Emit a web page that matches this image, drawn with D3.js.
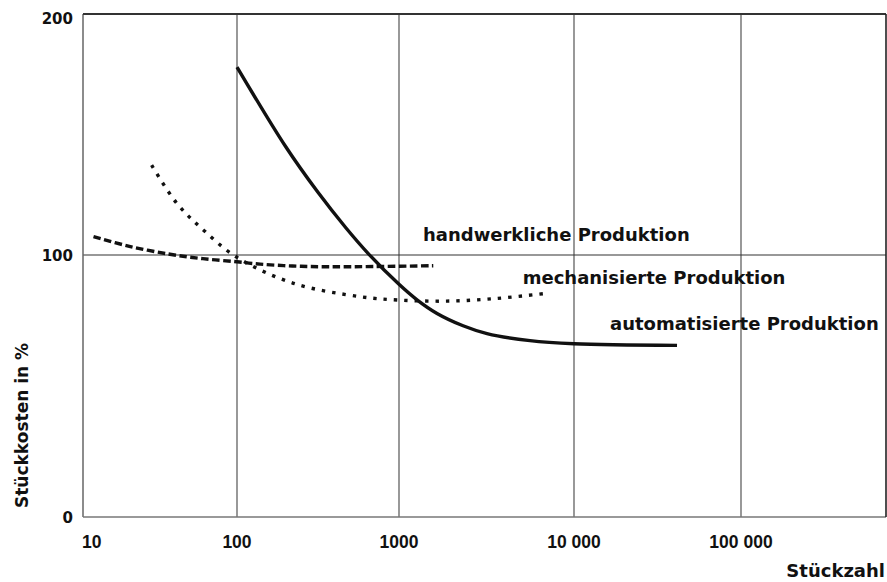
<!DOCTYPE html>
<html><head><meta charset="utf-8">
<script src="https://cdn.jsdelivr.net/npm/d3@7"></script>
<style>
body{margin:0;background:#fff;}
svg{display:block;}
</style></head>
<body>
<svg id="c" width="887" height="582"></svg>
<script>
// ---- data ----
const xTicks = [10, 100, 1000, 10000, 100000];
const xTickLabels = ["10", "100", "1000", "10 000", "100 000"];
const yTicks = [0, 100, 200];
const yTickLabels = ["0", "100", "200"];

const handX = [11.7, 20, 36.7, 60, 100, 139, 220, 358, 700, 1570];
const handY = [107.6, 103.6, 100.3, 98.6, 97.4, 96.5, 95.8, 95.5, 95.6, 95.9];

const mechX = [27.9, 40.6, 60.4, 100, 223, 574, 1000, 1870, 3600, 6980];
const mechY = [137.3, 121.5, 110.4, 99.1, 89.2, 84.1, 82.8, 82.4, 83.4, 85.4];

const autoX = [100, 200, 316, 471, 644, 1000, 1267, 1649, 2323, 3184, 5605, 10000, 41400];
const autoY = [178, 144.9, 126, 111.2, 100.7, 88.8, 82.9, 77.7, 73, 70, 67.3, 66.1, 65.5];

const seriesLabels = ["handwerkliche Produktion", "mechanisierte Produktion", "automatisierte Produktion"];
const xTitle = "Stückzahl";
const yTitle = "Stückkosten in %";

// ---- scales ----
const svg = d3.select("#c");
const x = d3.scaleLog()
  .domain([10, 100, 1000, 10000, 100000, 741000])
  .range([83, 237, 399, 574, 741, 886]);
const y = d3.scaleLinear()
  .domain([0, 100, 200])
  .range([517, 255, 14]);

// ---- grid ----
const g = svg.append("g");
g.selectAll("line.vg").data(xTicks.slice(1)).enter().append("line")
  .attr("x1", d => x(d)).attr("x2", d => x(d))
  .attr("y1", y(0)).attr("y2", y(200))
  .attr("stroke", "#444").attr("stroke-width", 1.1);
g.selectAll("line.hg").data([100]).enter().append("line")
  .attr("x1", x(10)).attr("x2", x(741000))
  .attr("y1", d => y(d)).attr("y2", d => y(d))
  .attr("stroke", "#333").attr("stroke-width", 1.1);

// frame
g.append("line").attr("x1", x(10)).attr("x2", x(10)).attr("y1", y(0)).attr("y2", y(200))
  .attr("stroke", "#666").attr("stroke-width", 1.5);
g.append("line").attr("x1", x(10)).attr("x2", x(741000)).attr("y1", y(0)).attr("y2", y(0))
  .attr("stroke", "#777").attr("stroke-width", 1.6);
g.append("line").attr("x1", x(10)).attr("x2", x(741000)).attr("y1", y(200)).attr("y2", y(200))
  .attr("stroke", "#333").attr("stroke-width", 2);
g.append("line").attr("x1", x(741000)).attr("x2", x(741000)).attr("y1", y(0)).attr("y2", y(200))
  .attr("stroke", "#222").attr("stroke-width", 1.6);

// ---- curves ----
const line = d3.line().x(d => x(d[0])).y(d => y(d[1])).curve(d3.curveCatmullRom.alpha(0.5));
const zip = (a, b) => a.map((v, i) => [v, b[i]]);

svg.append("path").datum(zip(handX, handY)).attr("d", line)
  .attr("fill", "none").attr("stroke", "#111").attr("stroke-width", 3.4)
  .attr("stroke-dasharray", "7.5,3.5");
svg.append("path").datum(zip(mechX, mechY)).attr("d", line)
  .attr("fill", "none").attr("stroke", "#111").attr("stroke-width", 3.4)
  .attr("stroke-dasharray", "3.4,7");
svg.append("path").datum(zip(autoX, autoY)).attr("d", line)
  .attr("fill", "none").attr("stroke", "#111").attr("stroke-width", 3.4);

// ---- tick labels ----
svg.selectAll("text.xt").data(xTicks).enter().append("text")
  .attr("x", d => x(d) - (d === 10 ? 1 : 0))
  .attr("y", 548)
  .attr("text-anchor", d => d === 10 ? "start" : "middle")
  .attr("font-family", "'Liberation Sans', Arial, sans-serif")
  .attr("font-weight", "bold").attr("font-size", "17.5px").attr("fill", "#111")
  .text((d, i) => xTickLabels[i]);

svg.selectAll("text.yt").data(yTicks).enter().append("text")
  .attr("x", 73)
  .attr("y", d => Math.max(y(d) + 5.5, 24))
  .attr("text-anchor", "end")
  .attr("font-family", "'DejaVu Sans', sans-serif")
  .attr("font-weight", "bold").attr("font-size", "15px").attr("fill", "#111")
  .text((d, i) => yTickLabels[i]);

// ---- series labels ----
const labelPos = [[423, 241], [522.7, 284], [610, 330]];
svg.selectAll("text.sl").data(seriesLabels).enter().append("text")
  .attr("x", (d, i) => labelPos[i][0]).attr("y", (d, i) => labelPos[i][1])
  .attr("font-family", "'DejaVu Sans', sans-serif")
  .attr("font-weight", "bold").attr("font-size", "18px").attr("fill", "#111")
  .text(d => d);

// ---- axis titles ----
svg.append("text").attr("x", 885).attr("y", 577).attr("text-anchor", "end")
  .attr("font-family", "'DejaVu Sans', sans-serif")
  .attr("font-weight", "bold").attr("font-size", "18px").attr("fill", "#111")
  .text(xTitle);
svg.append("text").attr("transform", "translate(28,508) rotate(-90)")
  .attr("text-anchor", "start")
  .attr("font-family", "'DejaVu Sans', sans-serif")
  .attr("font-weight", "bold").attr("font-size", "17px").attr("fill", "#111")
  .text(yTitle);
</script>
</body></html>
